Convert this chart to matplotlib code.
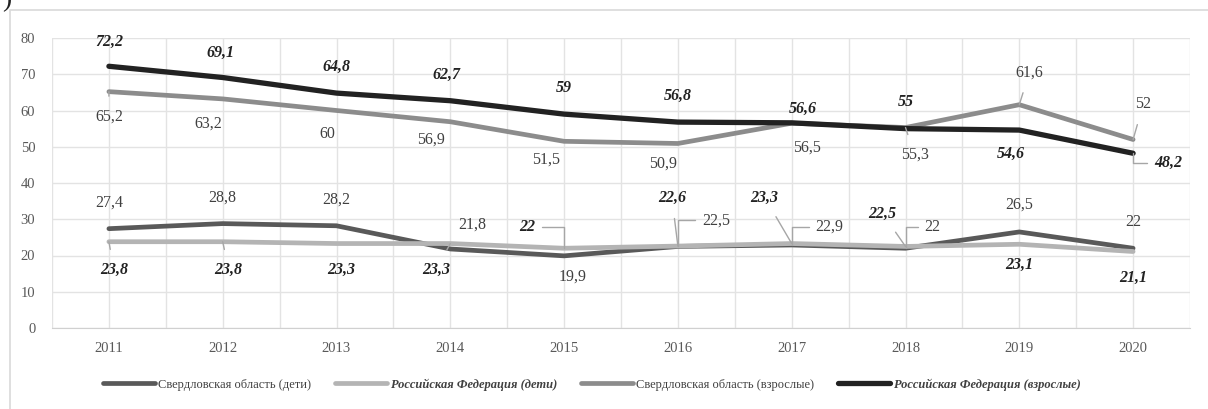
import matplotlib
matplotlib.use('Agg')
import matplotlib.pyplot as plt
from matplotlib.patches import Rectangle

plt.rcParams['font.family'] = ['Liberation Serif', 'DejaVu Serif']

years = ['2011', '2012', '2013', '2014', '2015', '2016', '2017', '2018', '2019', '2020']
sverd_kids = [27.4, 28.8, 28.2, 21.8, 19.9, 22.5, 22.9, 22, 26.5, 22]
rf_kids = [23.8, 23.8, 23.3, 23.3, 22, 22.6, 23.3, 22.5, 23.1, 21.1]
sverd_adults = [65.2, 63.2, 60, 56.9, 51.5, 50.9, 56.5, 55.3, 61.6, 52]
rf_adults = [72.2, 69.1, 64.8, 62.7, 59, 56.8, 56.6, 55, 54.6, 48.2]

names = ['Свердловская область (дети)', 'Российская Федерация (дети)',
         'Свердловская область (взрослые)', 'Российская Федерация (взрослые)']
colors = ['#595959', '#b4b4b4', '#8c8c8c', '#222222']
widths = [3.4, 3.4, 3.4, 3.8]
bold = [False, True, False, True]

# label offsets in pixels (dx, dy), leader style: None, 'line' or 'elbow'
offs_sk = [(0, 26, None), (0, 26, None), (0, 26, None), (22, 24, None), (9, -21, None),
           (38, 26, 'elbow'), (38, 18, 'elbow'), (27, 21, 'elbow'), (0, 27, None), (0, 26, None)]
offs_rk = [(5, -28, 'line'), (6, -28, 'line'), (5, -26, None), (-14, -26, 'line'), (-37, 21, 'elbowl'),
           (-6, 48, 'line'), (-27, 46, 'line'), (-23, 33, 'line'), (0, -21, None), (0, -26, None)]
offs_sa = [(0, -25, 'line'), (-14, -25, None), (-9, -23, None), (-19, -18, None), (-18, -18, None),
           (-15, -20, None), (15, -24, None), (9, -27, 'line'), (10, 32, 'line'), (10, 35, 'line')]
offs_ra = [(0, 24, None), (-2, 25, None), (0, 26, None), (-4, 26, None), (0, 26, None),
           (0, 26, None), (11, 14, None), (0, 27, None), (-8, -24, None), (35, -10, 'elbow')]

fig = plt.figure(figsize=(12.08, 4.09), dpi=100)
fig.patches.append(Rectangle((10 / 1208, -0.1), 1.2, 1 - 10 / 409 + 0.1, transform=fig.transFigure,
                             fill=False, edgecolor='#d9d9d9', linewidth=1.2))
fig.text(0.002, 1.0, ')', fontsize=20, ha='left', va='center', color='#222222')

ax = fig.add_axes([52 / 1208, 1 - 328 / 409, 1138 / 1208, 290 / 409])
x = list(range(len(years)))
series = [sverd_kids, rf_kids, sverd_adults, rf_adults]
offsets = [offs_sk, offs_rk, offs_sa, offs_ra]
for vals, name, c, w in zip(series, names, colors, widths):
    ax.plot(x, vals, color=c, linewidth=w, label=name, solid_capstyle='round',
            solid_joinstyle='round', zorder=3)

for vals, offs, b in zip(series, offsets, bold):
    for i, v in enumerate(vals):
        dx, dy, lead = offs[i]
        txt = f'{v:g}'.replace('.', ',')
        kw = dict(fontsize=11.5, color='#222222' if b else '#404040',
                  fontweight='bold' if b else 'normal', fontstyle='italic' if b else 'normal')
        if lead is None:
            ax.annotate(txt, (i, v), xytext=(dx, dy), textcoords='offset pixels',
                        ha='center', va='center', zorder=5, **kw)
        elif lead == 'line':
            ax.annotate(txt, (i, v), xytext=(dx, dy), textcoords='offset pixels',
                        ha='center', va='center', zorder=5,
                        arrowprops=dict(arrowstyle='-', color='#a6a6a6', lw=1,
                                        shrinkA=7, shrinkB=0), **kw)
        else:
            left = lead == 'elbow'
            ax.annotate(txt, (i, v), xytext=(dx, dy), textcoords='offset pixels',
                        ha='center', va='center', zorder=5,
                        arrowprops=dict(arrowstyle='-', color='#a6a6a6', lw=1,
                                        shrinkA=3, shrinkB=0,
                                        relpos=(0, 0.5) if left else (1, 0.5),
                                        connectionstyle='angle,angleA=0,angleB=90,rad=0'), **kw)

ax.set_xlim(-0.5, len(years) - 0.5)
ax.set_ylim(0, 80)
ax.set_yticks(range(0, 81, 10))
ax.set_xticks(x)
ax.set_xticklabels(years)
ax.set_xticks([i - 0.5 for i in range(len(years) + 1)], minor=True)
ax.grid(True, which='both', color='#e3e3e3', linewidth=1)
ax.set_axisbelow(True)
for s in ['top', 'right', 'left']:
    ax.spines[s].set_visible(False)
ax.spines['bottom'].set_color('#d0d0d0')
ax.tick_params(which='both', length=0)
ax.tick_params(axis='x', pad=10, labelsize=10.5, labelcolor='#595959')
ax.tick_params(axis='y', pad=12, labelsize=10.5, labelcolor='#595959')

leg = ax.legend(loc='upper center', bbox_to_anchor=(0.474, -0.135), ncol=4, frameon=False,
                fontsize=9, handlelength=4.2, columnspacing=1.9, handletextpad=0.25)
for t, b in zip(leg.get_texts(), bold):
    t.set_color('#404040')
    if b:
        t.set_fontweight('bold')
        t.set_fontstyle('italic')

fig.savefig('out.png', dpi=100)
